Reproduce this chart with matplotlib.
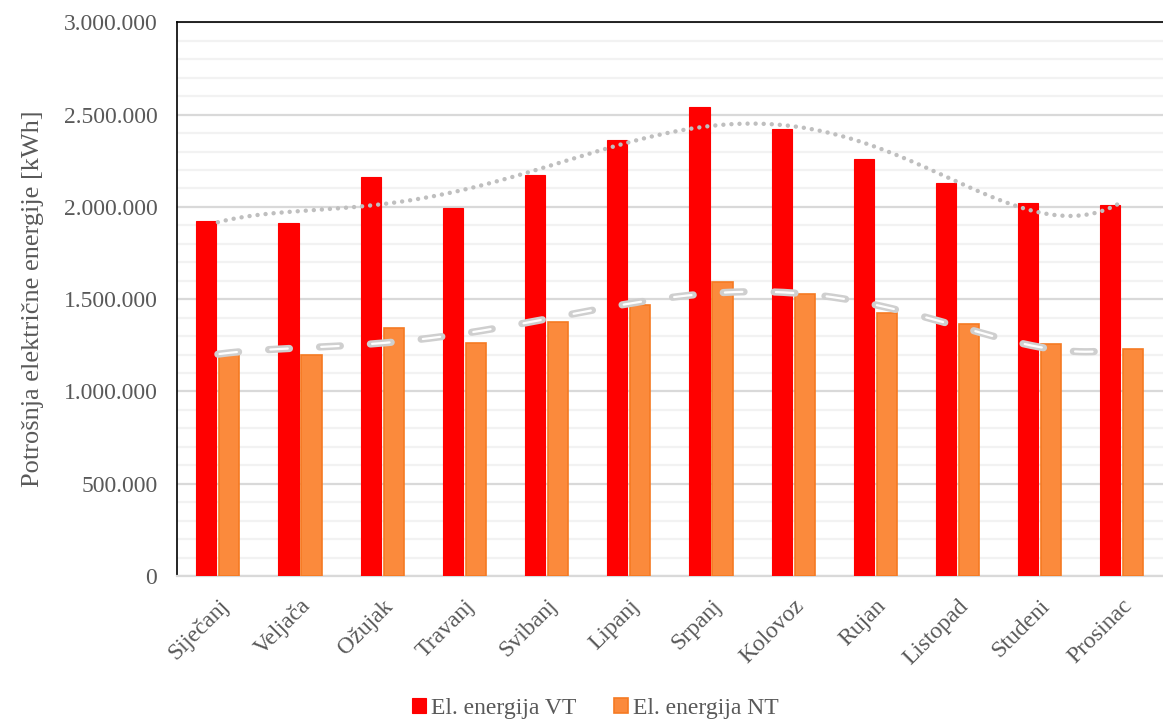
import numpy as np
import matplotlib
matplotlib.use('Agg')
from matplotlib import pyplot as plt
from matplotlib.ticker import MultipleLocator, FuncFormatter
from matplotlib.transforms import ScaledTranslation

plt.rcParams['font.family'] = ['Liberation Serif', 'DejaVu Serif']
plt.rcParams['lines.scale_dashes'] = False

# data

months = ['Siječanj', 'Veljača', 'Ožujak', 'Travanj', 'Svibanj', 'Lipanj',
          'Srpanj', 'Kolovoz', 'Rujan', 'Listopad', 'Studeni', 'Prosinac']
vt = [1925000, 1915000, 2161000, 1993000, 2172000, 2361000,
      2540000, 2421000, 2258000, 2128000, 2020000, 2009000]
nt = [1208000, 1197000, 1343000, 1262000, 1375000, 1468000,
      1592000, 1527000, 1424000, 1365000, 1256000, 1229000]
labels = ['El. energija VT', 'El. energija NT']

text_col = '#595959'

fig = plt.figure(figsize=(11.63, 7.2), dpi=100)
ax = fig.add_axes([0.152, 0.2, 0.848, 0.769])

x = np.arange(len(months))
w = 0.245
ax.bar(x - 0.14, vt, w, color='#FF0000', edgecolor='#FF0000', lw=0.8, label=labels[0], zorder=3)
ax.bar(x + 0.14, nt, w, color='#FB8A3C', edgecolor='#F57A22', lw=1.2, label=labels[1], zorder=3)

# polynomial trendlines (order 5, like Excel)

xs = np.linspace(1, 12, 300)
p_vt = np.polyfit(np.arange(1, 13), vt, 5)
p_nt = np.polyfit(np.arange(1, 13), nt, 5)
ax.plot(xs - 1, np.polyval(p_vt, xs), color='#BFBFBF', lw=3.2,
        linestyle=(0, (0.01, 5.8)), dash_capstyle='round', zorder=4)
ax.plot(xs - 1, np.polyval(p_nt, xs), color='#CFCFCF', lw=5.2,
        linestyle=(0, (15, 21.7)), dash_capstyle='round', zorder=4)
ax.plot(xs - 1, np.polyval(p_nt, xs), color='white', lw=1.6,
        linestyle=(-1.2, (12.6, 24.1)), dash_capstyle='round', zorder=5)

ax.set_xlim(-0.5, 11.5)
ax.set_ylim(0, 3000000)
ax.yaxis.set_major_locator(MultipleLocator(500000))
ax.yaxis.set_minor_locator(MultipleLocator(100000))
ax.yaxis.set_major_formatter(FuncFormatter(lambda v, p: f'{v:,.0f}'.replace(',', '.')))
ax.grid(axis='y', which='major', color='#D9D9D9', lw=1.6, zorder=0)
ax.grid(axis='y', which='minor', color='#F2F2F2', lw=1.6, zorder=0)
ax.set_axisbelow(True)

ax.set_xticks(x)
ax.set_xticklabels(months, rotation=45, ha='right', rotation_mode='anchor')
shift = ScaledTranslation(-5 / 100, 0, fig.dpi_scale_trans)
for lab in ax.get_xticklabels():
    lab.set_transform(lab.get_transform() + shift)
ax.tick_params(axis='both', which='both', length=0, labelsize=17, labelcolor=text_col)
ax.tick_params(axis='x', pad=14)
ax.tick_params(axis='y', pad=14)

ax.set_ylabel('Potrošnja električne energije [kWh]', fontsize=19, color=text_col, labelpad=14)

ax.spines['right'].set_visible(False)
ax.spines['left'].set_color('black')
ax.spines['top'].set_color('black')
ax.spines['left'].set_linewidth(1.2)
ax.spines['top'].set_linewidth(1.2)
ax.spines['bottom'].set_color('#D9D9D9')
ax.spines['bottom'].set_linewidth(1.6)

leg = fig.legend(loc='center', bbox_to_anchor=(0.512, 0.016), ncol=2, frameon=False,
                 fontsize=17, handlelength=0.6, handleheight=0.6, handletextpad=0.2,
                 columnspacing=1.6)
for t in leg.get_texts():
    t.set_color(text_col)

fig.savefig('out.png', dpi=100)
